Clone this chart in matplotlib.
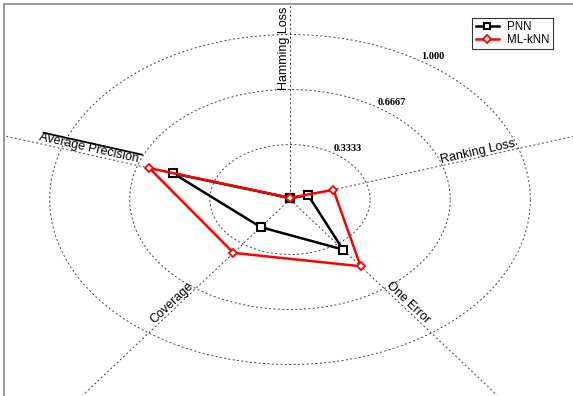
import numpy as np
import matplotlib
matplotlib.use("Agg")
import matplotlib.pyplot as plt

# radar data
categories = ['Hamming Loss', 'Ranking Loss', 'One Error', 'Coverage', 'Average Precision']
pnn = [0.01, 0.08, 0.375, 0.207, 0.51]
mlknn = [0.01, 0.19, 0.50, 0.40, 0.615]
ring_levels = [0.3333, 0.6667, 1.0]
ring_labels = ['0.3333', '0.6667', '1.000']

plt.rcParams['font.family'] = ['Liberation Sans', 'DejaVu Sans']

fig = plt.figure(figsize=(5.73, 3.96), dpi=100)
ax = fig.add_axes([4 / 573, 1 / 396, 572 / 573, 391 / 396])
ax.set_xlim(-1.19, 1.19)
ax.set_ylim(-1.185, 1.185)
ax.set_xticks([])
ax.set_yticks([])
for side in ['right', 'bottom']:
    ax.spines[side].set_visible(False)
for side in ['left', 'top']:
    ax.spines[side].set_color('0.6')
    ax.spines[side].set_linewidth(1.4)

n = len(categories)
angles = np.deg2rad(90 - 72 * np.arange(n))

# dotted rings
t = np.linspace(0, 2 * np.pi, 300)
for r in ring_levels:
    ax.plot(r * np.cos(t), r * np.sin(t), color='0.25', lw=0.7,
            linestyle=(0, (2, 2.5)), zorder=1)

# spokes
for a in angles:
    ax.plot([0, 2 * np.cos(a)], [0, 2 * np.sin(a)], color='0.25', lw=0.7,
            linestyle=(0, (2, 2.5)), zorder=1)

# ring labels
la = np.deg2rad(57)
for r, s in zip(ring_levels, ring_labels):
    ax.text(r * np.cos(la), r * np.sin(la), s, family='Liberation Serif',
            fontsize=7.5, fontweight='bold', ha='left', va='bottom', zorder=2)

# axis labels
for a, name in zip(angles, categories):
    deg = np.rad2deg(a)
    x0, y0 = 0.6667 * np.cos(a), 0.6667 * np.sin(a)
    if np.cos(a) > -0.01:
        rot, ha = deg, 'left'
    else:
        rot, ha = deg + 180, 'right'
    ax.text(x0, y0, name, fontsize=9, rotation=rot, ha=ha, va='bottom',
            rotation_mode='anchor', transform_rotates_text=True, zorder=3)
    if name == 'Average Precision':
        # the stray line drawn above this label
        px, py = -np.sin(a), np.cos(a)
        if py < 0:
            px, py = -px, -py
        rr = np.array([0.67, 1.10])
        ax.plot(rr * np.cos(a) + 0.068 * px, rr * np.sin(a) + 0.068 * py,
                color='black', lw=1.3, zorder=3)


def closed(vals):
    v = np.array(vals + vals[:1])
    a = np.concatenate([angles, angles[:1]])
    return v * np.cos(a), v * np.sin(a)


x, y = closed(pnn)
ax.plot(x, y, '-s', color='black', lw=1.8, markersize=5.5,
        markerfacecolor='white', markeredgewidth=1.5, label='PNN', zorder=4)
x, y = closed(mlknn)
ax.plot(x, y, '-D', color='red', lw=1.8, markersize=4.5,
        markerfacecolor='white', markeredgewidth=1.3, label='ML-kNN', zorder=5)

leg = ax.legend(loc='upper right', bbox_to_anchor=(553 / 573, (396 - 18) / 396),
                bbox_transform=fig.transFigure, fontsize=8.3, frameon=True,
                fancybox=False, edgecolor='black', handlelength=2.0,
                handletextpad=0.7, borderpad=0.3, labelspacing=0.05,
                borderaxespad=0, markerscale=0.85)
leg.get_frame().set_linewidth(0.8)

fig.savefig('out.png', dpi=100)
